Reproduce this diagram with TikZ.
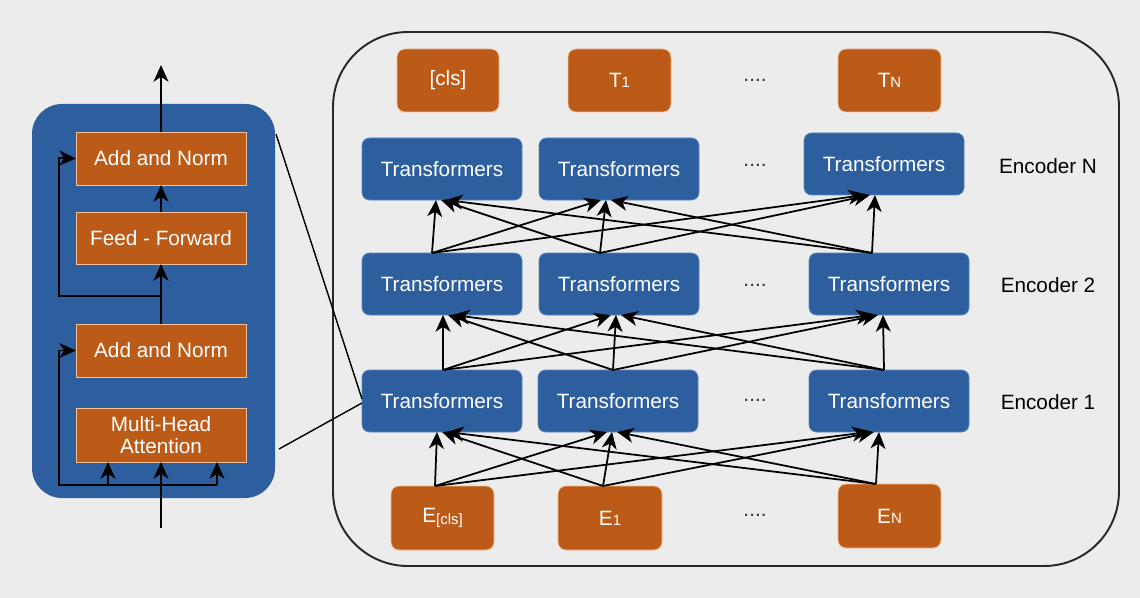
\documentclass[tikz,border=0pt]{standalone}
\usepackage{fontspec}
\setmainfont{Liberation Sans}
\usetikzlibrary{arrows.meta,fit,calc}
\definecolor{bg}{RGB}{236,236,236}
\definecolor{encblue}{RGB}{45,95,158}
\definecolor{blueedge}{RGB}{90,135,190}
\definecolor{tokorange}{RGB}{187,91,23}
\definecolor{orangeedge}{RGB}{245,190,150}
\definecolor{frameline}{RGB}{40,40,40}
\begin{document}
\begin{tikzpicture}[x=0.02cm,y=-0.02cm,
  every node/.style={font=\fontsize{11.8}{12.5}\selectfont},
  box/.style={inner sep=0pt, outer sep=0pt, text=white, align=center},
  layerbox/.style={box, fill=tokorange, draw=orangeedge, line width=0.5pt},
  token/.style={box, fill=tokorange, draw=orangeedge, line width=0.4pt, rounded corners=0.16cm},
  tfm/.style={box, fill=encblue, draw=blueedge, line width=0.4pt, rounded corners=0.15cm},
  link/.style={line width=1pt, -{Stealth[length=9.5pt,width=8.5pt,inset=2.8pt]}},
  wire/.style={line width=1pt},
  dots/.style={text=black!80},
  enclabel/.style={text=black}]

% canvas
\fill[bg] (0,0) rectangle (1140,598);
\useasboundingbox (0,0) rectangle (1140,598);

% ---------- single encoder block (left) ----------
\node[fit={(32,104) (275,498)}, inner sep=0pt, fill=encblue, rounded corners=0.6cm] (block) {};
\node[layerbox, fit={(76,132) (246,185)}] (an1) {};
\node at (an1.center) [text=white] {Add and Norm};
\node[layerbox, fit={(76,212) (246,264)}] (ff) {};
\node at (ff.center) [text=white] {Feed - Forward};
\node[layerbox, fit={(76,324) (246,377)}] (an2) {};
\node at (an2.center) [text=white] {Add and Norm};
\node[layerbox, fit={(76,408) (246,462)}] (mha) {};
\node at (mha.center) [text=white, align=center] {Multi-Head\\Attention};

\coordinate (out) at (161,65);
\coordinate (in) at (161,528);
\coordinate (res1) at (161,296);
\coordinate (split) at (161,485);
\coordinate (leftrail) at (59,485);
\coordinate (br1) at (108,485);
\coordinate (br2) at (217,485);

\draw[link] (an1.north) -- (out);
\draw[link] (ff.north) -- (an1.south);
\draw[link] (an2.north) -- (ff.south);
\draw[link] (res1) -| (59,158) -- (an1.west);
\draw[link] (in) -- (mha.south);
\draw[link] (split) -- (leftrail) |- (an2.west);
\draw[wire] (split) -- (br2);
\draw[link] (br1) -- (br1 |- mha.south);
\draw[link] (br2) -- (br2 |- mha.south);

% ---------- full encoder stack (right) ----------
\draw[frameline, line width=1.1pt, rounded corners=1.5cm] (333,32) rectangle (1119,566);

% output tokens
\node[token, fit={(397,49) (499,112)}] (tcls) {};
\node at (tcls.center) [text=white] {[cls]};
\node[token, fit={(568,49) (671,112)}] (t1) {};
\node at (t1.center) [text=white] {T{\fontsize{8.5}{9}\selectfont 1}};
\node[token, fit={(838,49) (941,112)}] (tn) {};
\node at (tn.center) [text=white] {T{\fontsize{8.5}{9}\selectfont N}};

% encoder N
\node[tfm, fit={(362,138) (522,200)}] (n1) {};
\node[tfm, fit={(539,138) (699,200)}] (n2) {};
\node[tfm, fit={(804,133) (964,195)}] (n3) {};
% encoder 2
\node[tfm, fit={(362,253) (522,315)}] (b1) {};
\node[tfm, fit={(539,253) (699,315)}] (b2) {};
\node[tfm, fit={(809,253) (969,315)}] (b3) {};
% encoder 1
\node[tfm, fit={(362,370) (522,432)}] (a1) {};
\node[tfm, fit={(538,370) (698,432)}] (a2) {};
\node[tfm, fit={(809,370) (969,432)}] (a3) {};
\foreach \n in {n1,n2,n3,b1,b2,b3,a1,a2,a3}
  \node at (\n.center) [text=white] {Transformers};

% input embeddings
\node[token, fit={(391,486) (494,550)}] (e1) {};
\node at (e1.center) [text=white] {E\raisebox{-1.5pt}{\fontsize{8.5}{9}\selectfont [cls]}};
\node[token, fit={(558,486) (662,550)}] (e2) {};
\node at (e2.center) [text=white] {E{\fontsize{8.5}{9}\selectfont 1}};
\node[token, fit={(838,484) (941,548)}] (e3) {};
\node at (e3.center) [text=white] {E{\fontsize{8.5}{9}\selectfont N}};

% ellipses between columns
\foreach \y in {80,165,285,400,515}
  \node[dots] at (755,\y) {....};

% layer names
\node[enclabel] at (1048,166) {Encoder N};
\node[enclabel] at (1048,285) {Encoder 2};
\node[enclabel] at (1048,402) {Encoder 1};

% all-to-all links between layers
\foreach \src/\sdx/\si in {e1/-7.5/1,e2/-7/2,e3/-13.5/3}
  \foreach \dst/\tdx/\ti in {a1/-5/1,a2/-6/2,a3/-10/3}
    \draw[link] ($(\src.north)+(\sdx,0)$) -- ($(\dst.south)+({\tdx+(\si-\ti)*5},0)$);
\foreach \src/\sdx/\si in {a1/1/1,a2/-5/2,a3/-5/3}
  \foreach \dst/\tdx/\ti in {b1/1/1,b2/-3/2,b3/-6/3}
    \draw[link] ($(\src.north)+(\sdx,0)$) -- ($(\dst.south)+({\tdx+(\si-\ti)*5},0)$);
\foreach \src/\sdx/\si in {b1/-10/1,b2/-19/2,b3/-17/3}
  \foreach \dst/\tdx/\ti in {n1/-6/1,n2/-13/2,n3/-9/3}
    \draw[link] ($(\src.north)+(\sdx,0)$) -- ($(\dst.south)+({\tdx+(\si-\ti)*5},0)$);

% zoom lines from the block to the first encoder
\coordinate (zt) at (276,134);
\coordinate (zb) at (279,449);
\draw[wire, line width=0.8pt] (zt) -- ($(a1.west)+(0,-2)$);
\draw[wire, line width=0.8pt] (zb) -- ($(a1.west)+(0,2)$);
\end{tikzpicture}
\end{document}
